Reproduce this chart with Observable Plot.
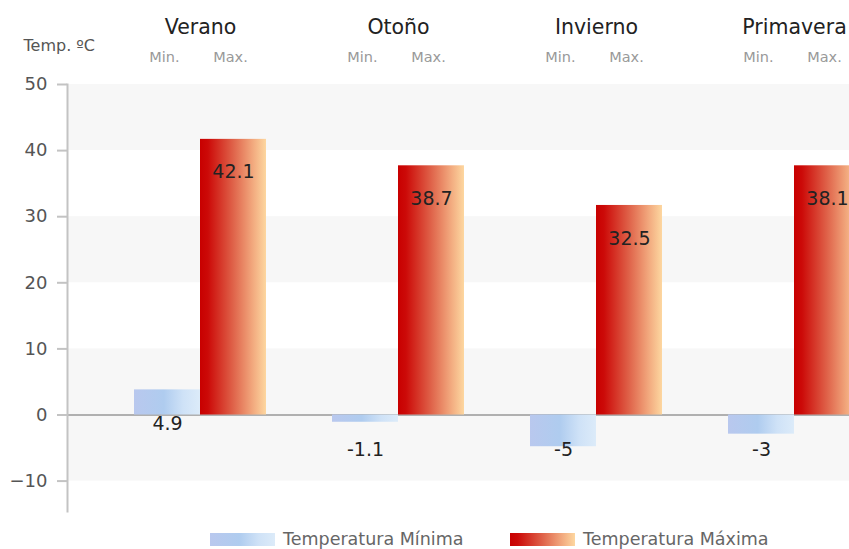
<!DOCTYPE html>
<html>
<head>
<meta charset="utf-8">
<script src="https://cdn.jsdelivr.net/npm/d3@7"></script>
<script src="https://cdn.jsdelivr.net/npm/@observablehq/plot@0.6"></script>
<style>
  html, body { margin: 0; padding: 0; background: #fff; }
  #wrap { width: 849px; height: 549px; overflow: hidden; position: relative; font-family: "DejaVu Sans", sans-serif; }
  #chart svg { max-width: none; display: block; }
  #legend { position: relative; height: 29px; }
  .sw { position: absolute; top: 13px; width: 65px; height: 13px; }
  .lt { position: absolute; top: 9px; font-size: 17.5px; color: #666; line-height: 20px; white-space: nowrap; }
</style>
</head>
<body>
<div id="wrap">
  <div id="chart"></div>
  <div id="legend"></div>
</div>
<script>
const seasons = ["Verano", "Otoño", "Invierno", "Primavera"];
const barMin = [3.8, -1.1, -4.8, -2.9];
const barMax = [41.7, 37.7, 31.7, 37.7];
const labelMin = ["4.9", "-1.1", "-5", "-3"];
const labelMax = ["42.1", "38.7", "32.5", "38.1"];
const yTicks = [-10, 0, 10, 20, 30, 40, 50];
const bandLo = [40, 20, -10];
const bandHi = [50, 30, 10];
const subLabels = ["Min.", "Max."];
const seriesNames = ["Temperatura Mínima", "Temperatura Máxima"];
const yTitle = "Temp. ºC";

const idx = d3.range(seasons.length);
const posIdx = idx.filter(i => barMin[i] >= 0);
const negIdx = idx.filter(i => barMin[i] < 0);

const chart = Plot.plot({
  width: 900,
  height: 520,
  marginLeft: 67,
  marginRight: 7,
  marginTop: 84,
  marginBottom: 9,
  style: { fontFamily: "DejaVu Sans, sans-serif", background: "#fff", overflow: "visible" },
  x: { type: "band", domain: seasons, range: [101, 893], padding: 0, axis: null },
  y: { domain: [-14.6, 50], axis: null },
  marks: [
    Plot.rectY(bandLo, { y1: d => d, y2: (d, i) => bandHi[i], fill: "#f7f7f7" }),
    Plot.ruleY([0], { stroke: "#b0b0b0", strokeWidth: 2 }),
    Plot.barY(idx, { x: i => seasons[i], y: i => barMin[i], fill: "url(#gMin)", insetLeft: 33, insetRight: 99 }),
    Plot.barY(idx, { x: i => seasons[i], y: i => barMax[i], fill: "url(#gMax)", insetLeft: 99, insetRight: 33 }),
    Plot.frame({ anchor: "left", stroke: "#c3c3c3", strokeWidth: 2 }),
    Plot.axisY({ ticks: yTicks, tickSize: 10, tickPadding: 10, fontSize: 18, stroke: "#c3c3c3", strokeWidth: 2, color: "#555", label: null }),
    Plot.text(idx, { x: i => seasons[i], y: i => barMax[i], text: i => labelMax[i], dx: 33, dy: 33, fontSize: 19, fill: "#222" }),
    Plot.text(posIdx, { x: i => seasons[i], y: () => 0, text: i => labelMin[i], dx: -33, dy: 9, fontSize: 19, fill: "#222" }),
    Plot.text(negIdx, { x: i => seasons[i], y: () => 0, text: i => labelMin[i], dx: -33, dy: 35, fontSize: 19, fill: "#222" }),
    Plot.text(seasons, { x: d => d, text: d => d, frameAnchor: "top", lineAnchor: "middle", dy: -57, fontSize: 20.5, fill: "#222" }),
    Plot.text(seasons, { x: d => d, text: () => subLabels[0], frameAnchor: "top", lineAnchor: "middle", dy: -27, dx: -36, fontSize: 14.5, fill: "#999" }),
    Plot.text(seasons, { x: d => d, text: () => subLabels[1], frameAnchor: "top", lineAnchor: "middle", dy: -27, dx: 30, fontSize: 14.5, fill: "#999" }),
    Plot.text([yTitle], { frameAnchor: "top-left", lineAnchor: "middle", text: d => d, dx: -44, dy: -39, textAnchor: "start", fontSize: 16, fill: "#555" })
  ]
});

const svg = d3.select(chart);
const defs = svg.insert("defs", ":first-child");
const gMin = defs.append("linearGradient").attr("id", "gMin").attr("x1", "0").attr("x2", "1").attr("y1", "0").attr("y2", "0");
[[0, "#b9c8ee"], [0.45, "#afccef"], [0.75, "#cfe2f7"], [1, "#dcebf9"]].forEach(([o, c]) => gMin.append("stop").attr("offset", o).attr("stop-color", c));
const gMax = defs.append("linearGradient").attr("id", "gMax").attr("x1", "0").attr("x2", "1").attr("y1", "0").attr("y2", "0");
[[0, "#c80000"], [0.12, "#cc0a08"], [0.5, "#df6249"], [0.8, "#f2a97e"], [1, "#fdd7a0"]].forEach(([o, c]) => gMax.append("stop").attr("offset", o).attr("stop-color", c));

document.getElementById("chart").appendChild(chart);

const legend = d3.select("#legend");
const swatches = [
  "linear-gradient(to right, #b9c8ee, #afccef 45%, #cfe2f7 75%, #dcebf9)",
  "linear-gradient(to right, #c80000, #cc0a08 12%, #df6249 50%, #f2a97e 80%, #fdd7a0)"
];
const swLeft = [210, 510];
seriesNames.forEach((name, i) => {
  legend.append("div").attr("class", "sw").style("left", swLeft[i] + "px").style("background", swatches[i]);
  legend.append("div").attr("class", "lt").style("left", (swLeft[i] + 73) + "px").text(name);
});
</script>
</body>
</html>
